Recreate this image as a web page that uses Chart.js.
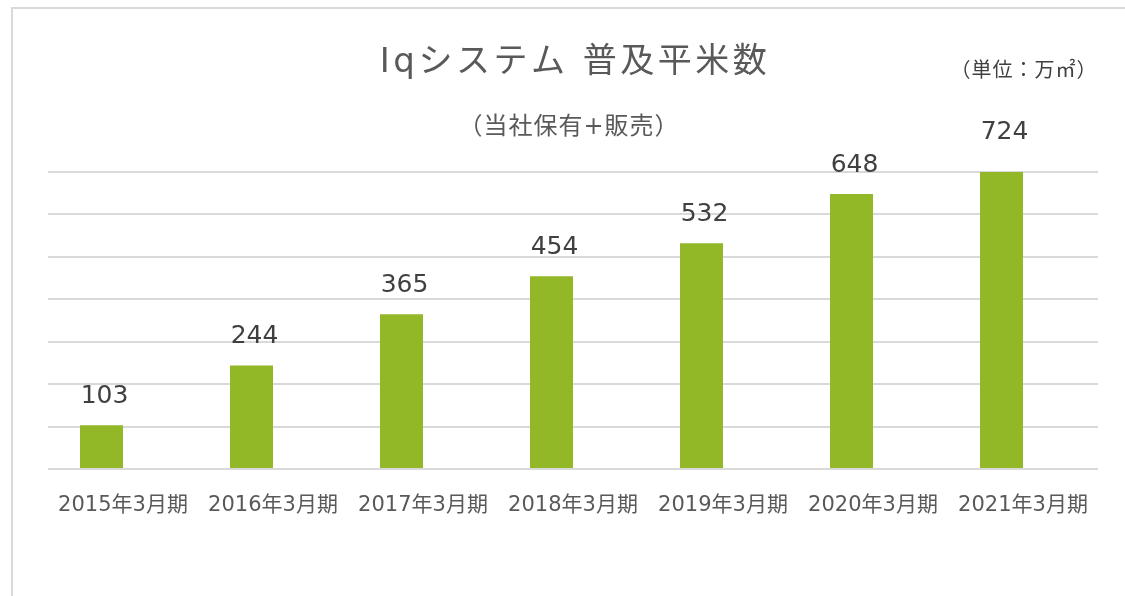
<!DOCTYPE html>
<html>
<head>
<meta charset="utf-8">
<script src="https://cdn.jsdelivr.net/npm/chart.js@4"></script>
<style>
    html, body { margin: 0; padding: 0; background: #fff; }
    #wrap { position: relative; width: 1125px; height: 596px; overflow: hidden; }
    #frame { position: absolute; left: 11px; top: 7px; right: -5px; bottom: -5px; border: 2px solid #d9d9d9; }
    canvas { position: absolute; left: 0; top: 0; }
</style>
</head>
<body>
<div id="wrap">
    <div id="frame"></div>
    <canvas id="chart" width="1125" height="596"></canvas>
</div>
<script>
// Data
const categories = ["2015年3月期", "2016年3月期", "2017年3月期", "2018年3月期", "2019年3月期", "2020年3月期", "2021年3月期"];
const areaValues = [103, 244, 365, 454, 532, 648, 724];
const emptySeries = [null, null, null, null, null, null, null];
const yTicks = [0, 100, 200, 300, 400, 500, 600, 700];

const titleText = "Iqシステム 普及平米数";
const subtitleText = "（当社保有+販売）";
const unitText = "（単位：万㎡）";
const FONT = "'DejaVu Sans', 'Noto Sans CJK JP', sans-serif";

// Draws the headings and the value labels above each bar
const textPlugin = {
    id: "textPlugin",
    afterDatasetsDraw(chart) {
        const ctx = chart.ctx;
        const area = chart.chartArea;
        const cx = (area.left + area.right) / 2;
        ctx.save();
        ctx.textAlign = "center";
        ctx.textBaseline = "middle";

        ctx.fillStyle = "#595959";
        ctx.font = "34px " + FONT;
        ctx.letterSpacing = "3.5px";
        ctx.fillText(titleText, cx + 2, 63);

        ctx.font = "24px " + FONT;
        ctx.letterSpacing = "1px";
        ctx.fillText(subtitleText, cx - 4, 128);

        ctx.fillStyle = "#404040";
        ctx.font = "20px " + FONT;
        ctx.letterSpacing = "1px";
        ctx.fillText(unitText, 1024, 72);

        ctx.font = "25px " + FONT;
        ctx.letterSpacing = "0px";
        const meta = chart.getDatasetMeta(0);
        meta.data.forEach((bar, i) => {
            ctx.fillText(String(areaValues[i]), bar.x + 3, bar.y - 29);
        });
        ctx.restore();
    }
};

new Chart(document.getElementById("chart"), {
    type: "bar",
    data: {
        labels: categories,
        datasets: [
            {
                label: "普及平米数",
                data: areaValues,
                backgroundColor: "#92b727",
                barPercentage: 1,
                categoryPercentage: 0.573
            },
            {
                label: "",
                data: emptySeries,
                backgroundColor: "rgba(0,0,0,0)",
                barPercentage: 1,
                categoryPercentage: 0.573
            }
        ]
    },
    options: {
        responsive: false,
        animation: false,
        layout: { padding: { left: 0, right: 27, top: 172, bottom: 0 } },
        plugins: {
            legend: { display: false },
            tooltip: { enabled: false }
        },
        scales: {
            x: {
                grid: { display: false },
                border: { display: false },
                ticks: {
                    color: "#595959",
                    font: { family: FONT, size: 21 },
                    padding: 16,
                    maxRotation: 0,
                    autoSkip: false
                },
                afterFit(scale) { scale.height = 127; }
            },
            y: {
                min: 0,
                max: 700,
                afterBuildTicks(scale) { scale.ticks = yTicks.map(v => ({ value: v })); },
                grid: { color: "#d9d9d9", lineWidth: 2, drawTicks: false },
                border: { display: false },
                ticks: { display: false },
                afterFit(scale) { scale.width = 48; }
            }
        }
    },
    plugins: [textPlugin]
});
</script>
</body>
</html>
